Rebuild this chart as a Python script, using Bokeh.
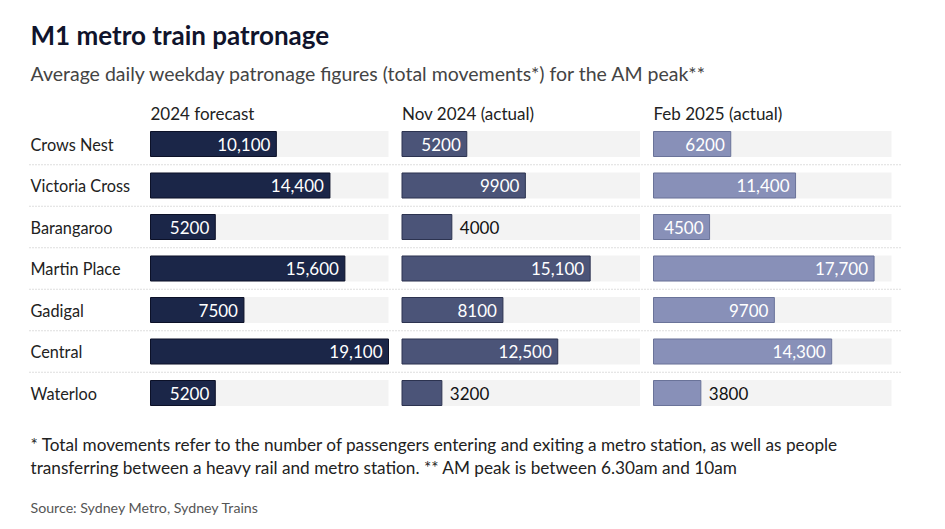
from bokeh.plotting import figure
from bokeh.models import Range1d, ColumnDataSource, Label
from bokeh.embed import file_html
from bokeh.resources import INLINE
from bokeh.core.properties import value

stations = ["Crows Nest", "Victoria Cross", "Barangaroo", "Martin Place", "Gadigal", "Central", "Waterloo"]
series_names = ["2024 forecast", "Nov 2024 (actual)", "Feb 2025 (actual)"]
forecast_2024 = [10100, 14400, 5200, 15600, 7500, 19100, 5200]
nov_2024 = [5200, 9900, 4000, 15100, 8100, 12500, 3200]
feb_2025 = [6200, 11400, 4500, 17700, 9700, 14300, 3800]
series_values = [forecast_2024, nov_2024, feb_2025]

fills = ["#1b2648", "#4b5478", "#8890b8"]
outlines = ["#0c1128", "#2c3350", "#6a7399"]

FONT = "Lato"
W, H = 929, 521
p = figure(width=W, height=H, output_backend="svg", toolbar_location=None,
           x_range=Range1d(0, W), y_range=Range1d(H, 0),
           min_border=0, outline_line_color=None)
p.axis.visible = False
p.grid.visible = False

vmax = max(max(s) for s in series_values)
col_x0 = [150, 401.5, 653]
col_w = 238
row_y0, row_step = 143.5, 41.5
row_y = [row_y0 + i * row_step for i in range(len(stations))]

# separators
for i in range(len(stations) - 1):
    y = (row_y[i] + row_y[i + 1]) / 2
    p.segment(x0=[29], x1=[900], y0=[y], y1=[y], line_color="#bdbdbd", line_width=1, line_dash="1 2")

for j, (name, vals) in enumerate(zip(series_names, series_values)):
    rname = f"c{j}"
    k = vmax / col_w
    p.extra_x_ranges[rname] = Range1d((0 - col_x0[j]) * k, (W - col_x0[j]) * k)
    labs = [f"{v:,}" if v >= 10000 else str(v) for v in vals]
    src = ColumnDataSource(dict(y=row_y, v=vals, bg=[vmax] * len(vals)))
    p.hbar(y="y", left=0, right="bg", height=26, source=src, x_range_name=rname,
           fill_color="#f3f3f3", line_color=None)
    p.hbar(y="y", left=0, right="v", height=25, source=src, x_range_name=rname,
           fill_color=fills[j], line_color=outlines[j], line_width=1)
    inside = [v / k > 53 for v in vals]
    si = ColumnDataSource(dict(y=[y for y, f in zip(row_y, inside) if f],
                               v=[v for v, f in zip(vals, inside) if f],
                               lab=[l for l, f in zip(labs, inside) if f]))
    so = ColumnDataSource(dict(y=[y for y, f in zip(row_y, inside) if not f],
                               v=[v for v, f in zip(vals, inside) if not f],
                               lab=[l for l, f in zip(labs, inside) if not f]))
    p.text(x="v", y="y", text="lab", source=si, x_range_name=rname, x_offset=-6,
           text_align="right", text_baseline="middle", text_color="white",
           text_font=value(FONT), text_font_size="17px")
    p.text(x="v", y="y", text="lab", source=so, x_range_name=rname, x_offset=8,
           text_align="left", text_baseline="middle", text_color="#111111",
           text_font=value(FONT), text_font_size="17px")
    p.add_layout(Label(x=col_x0[j], y=113, text=name, text_font=FONT, text_font_size="17px",
                       text_color="#222222", text_baseline="middle"))

p.text(x=[30] * len(stations), y=row_y, text=stations, text_baseline="middle",
       text_color="#222222", text_font=value(FONT), text_font_size="16.3px")

p.add_layout(Label(x=30, y=34, text="M1 metro train patronage", text_font=FONT,
                   text_font_style="bold", text_font_size="26px", text_color="#10142c",
                   text_baseline="middle"))
p.add_layout(Label(x=30, y=73, text="Average daily weekday patronage figures (total movements*) for the AM peak**",
                   text_font=FONT, text_font_size="19.5px", text_color="#444444", text_baseline="middle"))
FN = "Lato"
p.add_layout(Label(x=30, y=444, text="* Total movements refer to the number of passengers entering and exiting a metro station, as well as people",
                   text_font=FN, text_font_size="17.2px", text_color="#222222", text_baseline="middle"))
p.add_layout(Label(x=30, y=467, text="transferring between a heavy rail and metro station. ** AM peak is between 6.30am and 10am",
                   text_font=FN, text_font_size="17.2px", text_color="#222222", text_baseline="middle"))
p.add_layout(Label(x=30, y=507, text="Source: Sydney Metro, Sydney Trains",
                   text_font=FN, text_font_size="14.2px", text_color="#555555", text_baseline="middle"))

open("out.html", "w").write(file_html(p, INLINE))
